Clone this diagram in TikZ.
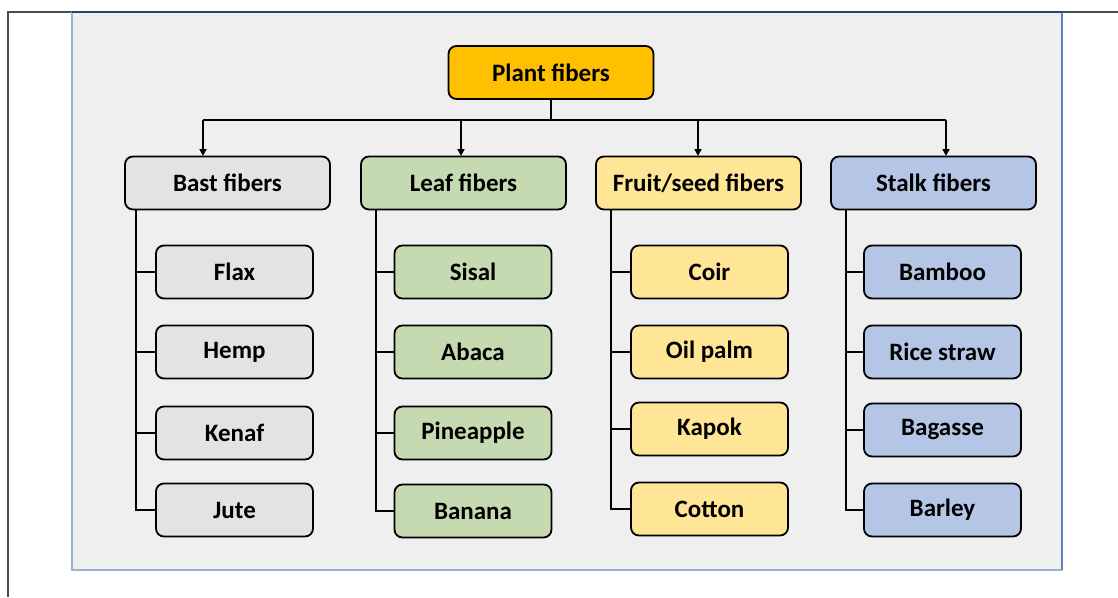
\documentclass[tikz,border=0pt]{standalone}
\usepackage{fontspec}
\setmainfont{Carlito}
\usetikzlibrary{arrows.meta}
\definecolor{panelbg}{HTML}{EFEFEF}
\definecolor{paneledge}{HTML}{9DB1D6}
\definecolor{paneltop}{HTML}{2A4270}
\definecolor{panelright}{HTML}{5D80C0}
\definecolor{rootfill}{HTML}{FFC000}
\definecolor{bastfill}{HTML}{E3E3E3}
\definecolor{leaffill}{HTML}{C5DAB1}
\definecolor{fruitfill}{HTML}{FFE596}
\definecolor{stalkfill}{HTML}{B4C5E6}
\tikzset{
  fbox/.style={draw=black, line width=1.8pt, rounded corners=8pt,
    minimum width=205pt, minimum height=53pt, inner sep=0pt,
    font=\fontsize{25}{28}\selectfont\bfseries},
  subbox/.style={fbox, minimum width=157pt, minimum height=53pt},
  link/.style={line width=1.7pt, black},
  arr/.style={link, -{Triangle[length=7pt,width=7pt]}}
}
\begin{document}
\begin{tikzpicture}[x=1pt,y=-1pt]
\useasboundingbox (0,0) rectangle (1118,597);
% outer frame
\draw[line width=1.4pt, black!70] (8,597) -- (8,12) -- (1118,12);
% panel
\fill[panelbg] (72,12) rectangle (1062,570);
\draw[paneledge, line width=1.2pt] (1062,570) -- (72,570) -- (72,12);
\draw[panelright, line width=1.2pt] (1062,12) -- (1062,570);
\draw[paneltop, line width=1.4pt] (72,12) -- (1062,12);

% root
\node[fbox, fill=rootfill] (plant) at (551,72.5) {Plant fibers};

% categories
\node[fbox, fill=bastfill]  (bast)  at (227.5,183) {Bast fibers};
\node[fbox, fill=leaffill]  (leaf)  at (463.5,183) {Leaf fibers};
\node[fbox, fill=fruitfill] (fruit) at (698.5,183) {Fruit/seed fibers};
\node[fbox, fill=stalkfill] (stalk) at (933.5,183) {Stalk fibers};

% branching from the root
\coordinate (hub) at (551,120);
\draw[link] (plant.south) -- (hub);
\draw[link] (203,120) -- (946,120);
\draw[arr] (203,120) -- (203,156);
\draw[arr] (461,120) -- (461,156);
\draw[arr] (698,120) -- (698,156);
\draw[arr] (946,120) -- (946,156);

% bast
\node[subbox, fill=bastfill] (b1) at (234.5,272) {Flax};
\node[subbox, fill=bastfill] (b2) at (234.5,352) {Hemp};
\node[subbox, fill=bastfill] (b3) at (234.5,433) {Kenaf};
\node[subbox, fill=bastfill] (b4) at (234.5,510) {Jute};
% leaf
\node[subbox, fill=leaffill] (l1) at (473,272) {Sisal};
\node[subbox, fill=leaffill] (l2) at (473,352) {Abaca};
\node[subbox, fill=leaffill] (l3) at (473,433) {Pineapple};
\node[subbox, fill=leaffill] (l4) at (473,511) {Banana};
% fruit/seed
\node[subbox, fill=fruitfill] (f1) at (709.5,272) {Coir};
\node[subbox, fill=fruitfill] (f2) at (709.5,352) {Oil palm};
\node[subbox, fill=fruitfill] (f3) at (709.5,429) {Kapok};
\node[subbox, fill=fruitfill] (f4) at (709.5,509) {Cotton};
% stalk
\node[subbox, fill=stalkfill] (s1) at (942.5,272) {Bamboo};
\node[subbox, fill=stalkfill] (s2) at (942.5,352) {Rice straw};
\node[subbox, fill=stalkfill] (s3) at (942.5,430) {Bagasse};
\node[subbox, fill=stalkfill] (s4) at (942.5,510) {Barley};

% tree lines
\foreach \p/\c/\x in {bast/b/136, leaf/l/376, fruit/f/611, stalk/s/846}{
  \draw[link] (\x,210) -- (\x,0 |- \c4.west) -- (\c4.west);
  \foreach \i in {1,2,3}{
    \draw[link] (\x,0 |- \c\i.west) -- (\c\i.west);
  }
}
\end{tikzpicture}
\end{document}
